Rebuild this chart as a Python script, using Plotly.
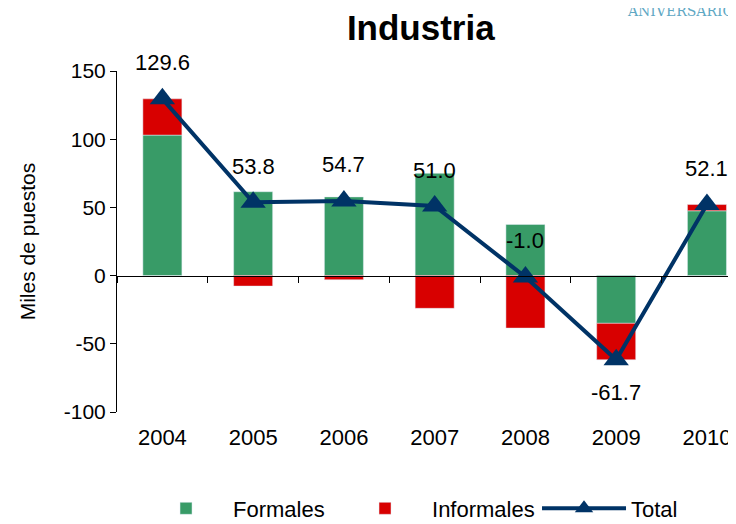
import plotly.graph_objects as go

YEARS = ["2004", "2005", "2006", "2007", "2008", "2009", "2010"]
FORMALES = [103.0, 61.5, 57.7, 75.0, 37.5, -35.0, 47.5]
INFORMALES = [26.6, -7.7, -3.0, -24.0, -38.5, -26.7, 4.6]
TOTAL = [129.6, 53.8, 54.7, 51.0, -1.0, -61.7, 52.1]
Y_TICKS = [-100, -50, 0, 50, 100, 150]

GREEN = "#389B67"
RED = "#D80000"
NAVY = "#003366"
FONT = "Arial, Liberation Sans, sans-serif"
X_RANGE = [-0.5, 6.32]

fig = go.Figure()
fig.add_trace(go.Bar(x=YEARS, y=FORMALES, name="Formales", marker_color=GREEN, width=0.43))
fig.add_trace(go.Bar(x=YEARS, y=INFORMALES, name="Informales", marker_color=RED, width=0.43))
fig.add_trace(
    go.Scatter(
        x=YEARS, y=TOTAL, name="Total", mode="lines+markers",
        line=dict(color=NAVY, width=4),
        marker=dict(symbol="triangle-up", size=22, color=NAVY),
    )
)
# empty trace so the bottom label axis has categories
fig.add_trace(
    go.Scatter(x=YEARS, y=[None] * len(YEARS), xaxis="x2", showlegend=False,
               hoverinfo="skip", mode="markers")
)

# data labels on the total line (x given as category index)
for i, val in enumerate(TOTAL):
    fig.add_annotation(
        x=i, y=val, text=f"{val:.1f}", showarrow=False,
        yshift=-33 if val < -30 else 36, font=dict(size=22, color="black"),
    )

# logo text, cut by the top edge as in the source
fig.add_annotation(
    xref="paper", yref="paper", x=1.0, y=1.175, xanchor="right", yanchor="middle",
    text="ANIVERSARIO", showarrow=False,
    font=dict(family="DejaVu Serif, serif", size=14, color="#5FA8C4"),
)

# page has an 8px body margin, so the figure is sized/offset for that
fig.update_layout(
    width=728, height=516,
    barmode="relative",
    paper_bgcolor="white", plot_bgcolor="white",
    font=dict(family=FONT, size=21, color="black"),
    margin=dict(l=109, r=0, t=63, b=112, autoexpand=False),
    title=dict(
        text="<b>Industria</b>", font=dict(size=35, color="black"),
        xref="container", x=0.567, xanchor="center", y=0.961, yanchor="middle",
    ),
    # axis line through zero with boundary ticks
    xaxis=dict(
        type="category", range=X_RANGE, anchor="free", position=0.3988,
        showline=True, linecolor="black", linewidth=1, ticks="outside",
        tickson="boundaries", ticklen=6, tickcolor="black",
        showticklabels=False, showgrid=False, zeroline=False, automargin=False,
    ),
    # year labels at the bottom
    xaxis2=dict(
        type="category", overlaying="x", anchor="y", side="bottom", range=X_RANGE,
        showline=False, ticks="", showgrid=False, zeroline=False,
        tickfont=dict(size=22), ticklabelstandoff=10, automargin=False,
    ),
    yaxis=dict(
        range=[-100, 150], tickvals=Y_TICKS, ticktext=[str(v) for v in Y_TICKS],
        showline=True, linecolor="black", linewidth=1, ticks="outside", ticklen=6,
        tickcolor="black", showgrid=False, zeroline=False, automargin=False,
        title=dict(text="Miles de puestos", font=dict(size=21), standoff=22),
    ),
    showlegend=True,
    legend=dict(
        orientation="h", xref="container", x=0.59, xanchor="center",
        yref="container", y=0.03, yanchor="middle",
        font=dict(size=22), itemwidth=84, traceorder="normal",
        entrywidth=100, entrywidthmode="pixels",
    ),
)

fig.write_html("out.html")
